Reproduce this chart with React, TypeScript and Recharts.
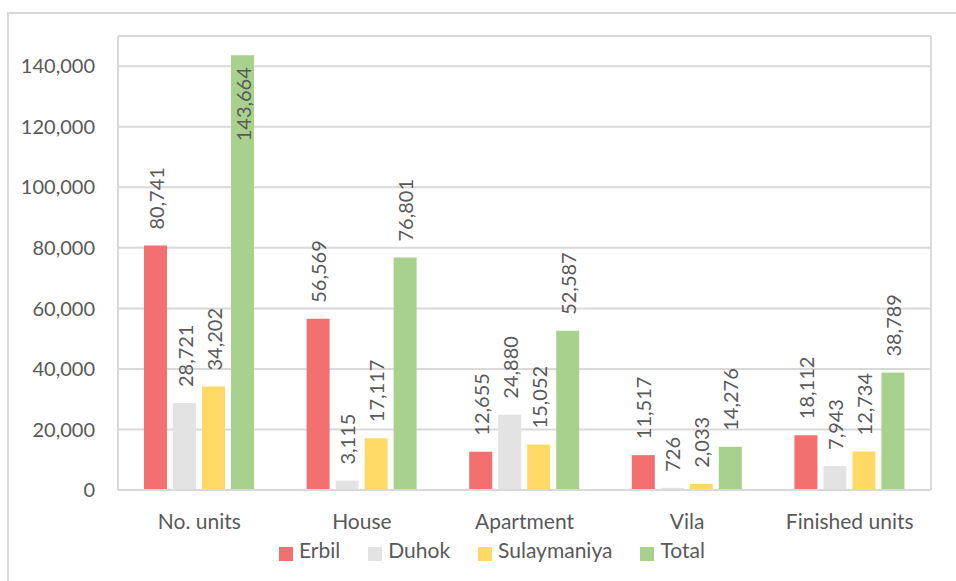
import { BarChart, Bar, XAxis, YAxis, CartesianGrid, Legend } from "recharts"

const categories = ["No. units", "House", "Apartment", "Vila", "Finished units"]
const erbil = [80741, 56569, 12655, 11517, 18112]
const duhok = [28721, 3115, 24880, 726, 7943]
const sulaymaniya = [34202, 17117, 15052, 2033, 12734]
const total = [143664, 76801, 52587, 14276, 38789]
const yTicks = [0, 20000, 40000, 60000, 80000, 100000, 120000, 140000]

const FONT = "Lato, 'Open Sans', sans-serif"
const TEXT = "#595959"
const LINE = "#d9d9d9"

const data = categories.map((c, i) => ({
  category: c,
  Erbil: erbil[i],
  Duhok: duhok[i],
  Sulaymaniya: sulaymaniya[i],
  Total: total[i],
}))

const fmt = (v: number) => v.toLocaleString("en-US")

const renderLabel = (props: any) => {
  const { x, y, width, value } = props
  const cx = Number(x) + Number(width) / 2
  const top = Number(y)
  // no room above the bar -> put the label inside, like Excel does
  const inside = top - 16 - 70 < 10
  const cy = inside ? top + 12 : top - 16
  return (
    <text
      x={cx}
      y={cy}
      transform={`rotate(-90 ${cx} ${cy})`}
      textAnchor={inside ? "end" : "start"}
      dominantBaseline="central"
      fill={TEXT}
      fontSize={20}
      fontFamily={FONT}
    >
      {fmt(Number(value))}
    </text>
  )
}

const series = [
  { key: "Erbil", color: "#f27070" },
  { key: "Duhok", color: "#e3e3e3" },
  { key: "Sulaymaniya", color: "#ffd966" },
  { key: "Total", color: "#a9d18e" },
]

export default function App() {
  return (
    <div style={{ position: "absolute", left: 0, top: 0, width: 956, height: 581, background: "#fff" }}>
      <div
        style={{
          position: "absolute",
          left: 7,
          top: 12,
          right: -2,
          bottom: -2,
          borderLeft: `2px solid ${LINE}`,
          borderTop: `2px solid ${LINE}`,
        }}
      />
      <BarChart
        width={956}
        height={581}
        data={data}
        margin={{ top: 35, right: 24, left: 0, bottom: 14 }}
        barCategoryGap="16%"
        barGap={6}
        style={{ position: "absolute", left: 0, top: 0 }}
      >
        <CartesianGrid vertical={false} stroke={LINE} strokeWidth={2} />
        <XAxis
          dataKey="category"
          height={47}
          tickLine={false}
          tickSize={0}
          tickMargin={24}
          axisLine={{ stroke: LINE, strokeWidth: 2 }}
          tick={{ fill: TEXT, fontSize: 21, fontFamily: FONT }}
        />
        <XAxis
          xAxisId="top"
          orientation="top"
          dataKey="category"
          height={1}
          tick={false}
          tickLine={false}
          axisLine={{ stroke: LINE, strokeWidth: 2 }}
        />
        <YAxis
          width={118}
          domain={[0, 150000]}
          ticks={yTicks}
          tickFormatter={fmt}
          tickLine={false}
          tickSize={0}
          tickMargin={23}
          axisLine={{ stroke: LINE, strokeWidth: 2 }}
          tick={{ fill: TEXT, fontSize: 20, fontFamily: FONT }}
        />
        <YAxis
          yAxisId="r"
          orientation="right"
          width={1}
          domain={[0, 150000]}
          tick={false}
          tickLine={false}
          axisLine={{ stroke: LINE, strokeWidth: 2 }}
        />
        <Legend
          verticalAlign="bottom"
          height={30}
          iconType="square"
          iconSize={14}
          wrapperStyle={{ paddingLeft: 80, boxSizing: "border-box" }}
          itemSorter={(item: any) => series.findIndex((s) => s.key === item.value)}
          formatter={(v: string) => (
            <span style={{ color: TEXT, fontSize: 21, fontFamily: FONT, marginLeft: 2, marginRight: 18 }}>{v}</span>
          )}
        />
        {series.map((s) => (
          <Bar
            key={s.key}
            dataKey={s.key}
            fill={s.color}
            isAnimationActive={false}
            label={renderLabel}
          />
        ))}
      </BarChart>
    </div>
  )
}
